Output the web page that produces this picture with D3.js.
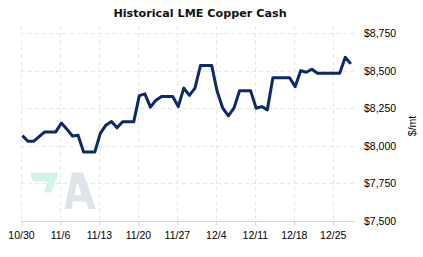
<!DOCTYPE html>
<html>
<head>
<meta charset="utf-8">
<script src="https://cdn.jsdelivr.net/npm/d3@7"></script>
<style>
  html, body { margin: 0; padding: 0; background: #fff; }
  svg { display: block; }
  text { font-family: "Liberation Sans", Arial, sans-serif; }
</style>
</head>
<body>
<svg id="chart" width="423" height="257"></svg>
<script>
// ---- data ----
const title = "Historical LME Copper Cash";
const yUnit = "$/mt";
const startDate = "2023-10-30";
// daily values (weekends carried), 10/30 .. 12/28
const prices = [
  8068, 8030, 8030, 8062, 8093, 8093, 8093,
  8152, 8110, 8066, 8070, 7958, 7958, 7958,
  8083, 8138, 8162, 8120, 8160, 8160, 8160,
  8335, 8347, 8258, 8305, 8329, 8329, 8329,
  8262, 8385, 8337, 8385, 8537, 8537, 8537,
  8362, 8251, 8200, 8251, 8367, 8367, 8367,
  8251, 8262, 8240, 8455, 8455, 8455, 8455,
  8395, 8502, 8491, 8511, 8485, 8485, 8485,
  8485, 8485, 8591, 8547
];
const xTickLabels = ["10/30", "11/6", "11/13", "11/20", "11/27", "12/4", "12/11", "12/18", "12/25"];
const yTicks = [7500, 7750, 8000, 8250, 8500, 8750];
const yDomain = [7500, 8800];
const xEnd = "2023-12-29";

// ---- build ----
const parse = d3.utcParse("%Y-%m-%d");
const t0 = parse(startDate);
const data = prices.map((v, i) => ({ date: d3.utcHour.offset(d3.utcDay.offset(t0, i), 6), value: v }));
const tickDates = xTickLabels.map((_, i) => d3.utcDay.offset(t0, i * 7));

const svg = d3.select("#chart");
const x = d3.scaleUtc().domain([t0, parse(xEnd)]).range([21, 355]);
const y = d3.scaleLinear().domain(yDomain).range([220.7, 26]);
const crisp = v => Math.round(v) + 0.5;

// title
svg.append("text")
  .attr("x", 200).attr("y", 17)
  .attr("text-anchor", "middle")
  .style("font-family", "'DejaVu Sans', Verdana, sans-serif")
  .style("font-weight", "bold")
  .style("font-size", "11.2px")
  .attr("fill", "#111")
  .text(title);

// watermark logo
const logo = svg.append("g");
logo.append("path")
  .attr("d", "M30,172.5 L58.5,172.5 L51.5,192.5 L44,192.5 L47.5,181.5 L33,181.5 Z")
  .attr("fill", "#d3f3e4");
logo.append("path")
  .attr("d", "M72,172.5 L83,172.5 L96,209 L88.5,209 L86,201.5 L73,201.5 L71.5,209 L64.5,209 Z M77.5,181.5 L74.5,195 L81.5,195 Z")
  .attr("fill", "#dfe3ea")
  .attr("fill-rule", "evenodd");

// horizontal gridlines
svg.append("g").selectAll("line")
  .data(yTicks.filter(d => d !== yDomain[0]))
  .join("line")
  .attr("x1", 21).attr("x2", 355)
  .attr("y1", d => crisp(y(d))).attr("y2", d => crisp(y(d)))
  .attr("stroke", "#e6e6e6").attr("stroke-dasharray", "4,3");

// vertical gridlines
svg.append("g").selectAll("line")
  .data(tickDates)
  .join("line")
  .attr("x1", d => crisp(x(d))).attr("x2", d => crisp(x(d)))
  .attr("y1", 26).attr("y2", 220.7)
  .attr("stroke", "#e6e6e6").attr("stroke-dasharray", "4,3");

// x axis
const xAxis = d3.axisBottom(x)
  .tickValues(tickDates)
  .tickFormat((d, i) => xTickLabels[i])
  .tickSize(4)
  .tickSizeOuter(0);
const gx = svg.append("g")
  .attr("transform", `translate(0,${Math.round(y(yDomain[0])) + 0.5})`)
  .call(xAxis);
gx.select(".domain").attr("stroke", "#d4d4d4").attr("d", `M21,0H355`);
gx.selectAll(".tick line").attr("stroke", "#cfcfcf").attr("transform", "translate(0.5,0)");
gx.selectAll(".tick text")
  .attr("y", 10)
  .attr("fill", "#000")
  .style("font-family", "'Liberation Sans', Arial, sans-serif")
  .style("font-size", "10.5px");

// y axis labels (right side)
const yAxis = d3.axisRight(y)
  .tickValues(yTicks)
  .tickFormat(d => "$" + d3.format(",")(d))
  .tickSize(0);
const gy = svg.append("g")
  .attr("transform", "translate(355,0)")
  .call(yAxis);
gy.select(".domain").remove();
gy.selectAll(".tick text")
  .attr("x", 9)
  .attr("fill", "#000")
  .style("font-family", "'Liberation Sans', Arial, sans-serif")
  .style("font-size", "10.5px");

// unit label
svg.append("text")
  .attr("transform", "translate(415.5,126) rotate(-90)")
  .attr("text-anchor", "middle")
  .style("font-size", "10.5px")
  .attr("fill", "#000")
  .text(yUnit);

// line
const line = d3.line()
  .x(d => x(d.date))
  .y(d => y(d.value));
svg.append("path")
  .datum(data)
  .attr("d", line)
  .attr("fill", "none")
  .attr("stroke", "#0c2a69")
  .attr("stroke-width", 3)
  .attr("stroke-linejoin", "round");
</script>
</body>
</html>
